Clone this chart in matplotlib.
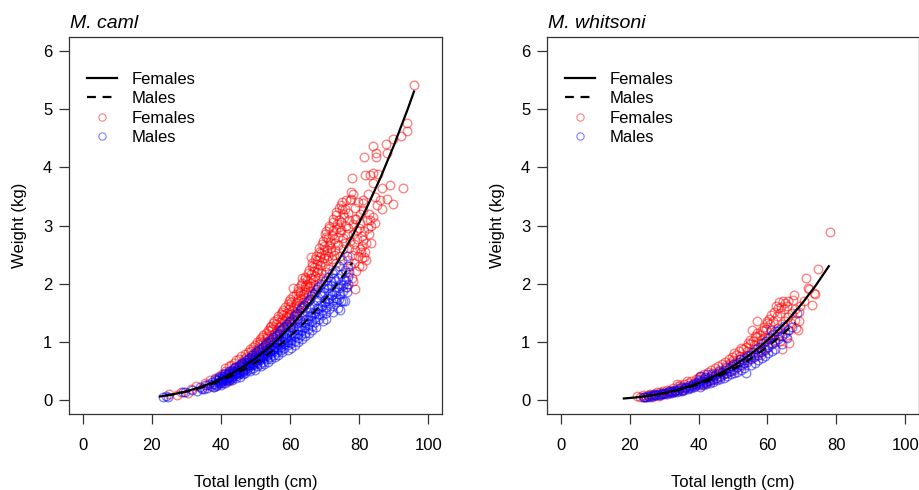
import matplotlib
matplotlib.use("Agg")
import matplotlib.pyplot as plt
from matplotlib.lines import Line2D

plt.rcParams['font.family'] = ['Liberation Sans', 'DejaVu Sans']

# ---------------- data ----------------
panel_titles = ["M. caml", "M. whitsoni"]
x_ticks = [0, 20, 40, 60, 80, 100]
y_ticks = [0, 1, 2, 3, 4, 5, 6]
x_label = "Total length (cm)"
y_label = "Weight (kg)"
legend_labels = ["Females", "Males", "Females", "Males"]

# M. caml females: (total length cm, weight kg)
caml_female = [
    (25.0, 0.10), (27.2, 0.08), (28.3, 0.14), (30.5, 0.12), (31.2, 0.19), (32.8, 0.24), (34.5, 0.20),
    (35.3, 0.30), (36.1, 0.25), (36.8, 0.34), (37.6, 0.22), (38.2, 0.38), (39.1, 0.29), (39.4, 0.42),
    (40.2, 0.33), (40.3, 0.45), (40.8, 0.38), (40.6, 0.30), (41.2, 0.50), (40.9, 0.41), (41.7, 0.35),
    (41.3, 0.55), (42.2, 0.46), (41.9, 0.40), (42.4, 0.58), (42.7, 0.50), (42.3, 0.33), (43.1, 0.44),
    (42.8, 0.60), (43.4, 0.52), (43.6, 0.48), (43.3, 0.38), (44.2, 0.56), (43.9, 0.63), (44.3, 0.45),
    (44.7, 0.52), (44.4, 0.68), (45.2, 0.58), (44.9, 0.47), (45.3, 0.70), (45.7, 0.62), (45.4, 0.53),
    (46.1, 0.66), (45.8, 0.75), (46.3, 0.50), (46.2, 0.58), (46.7, 0.71), (46.4, 0.60), (47.2, 0.64),
    (46.9, 0.79), (47.4, 0.55), (47.7, 0.68), (47.3, 0.74), (48.2, 0.72), (47.9, 0.83), (48.4, 0.60),
    (48.1, 0.66), (48.7, 0.78), (48.3, 0.88), (49.1, 0.70), (48.8, 0.84), (49.3, 0.62), (49.6, 0.80),
    (49.4, 0.92), (49.8, 0.74),
    (50.1, 0.78), (49.9, 0.95), (50.3, 0.68), (50.2, 0.86), (50.7, 0.90), (50.4, 1.00), (50.8, 0.74),
    (51.2, 0.82), (50.9, 0.96), (51.3, 1.05), (51.1, 0.72), (51.7, 0.88), (51.4, 1.02), (51.8, 0.78),
    (52.2, 0.92), (51.9, 1.08), (52.4, 0.80), (52.1, 0.99), (52.7, 0.86), (52.3, 1.12), (52.8, 0.95),
    (53.1, 1.00), (52.9, 1.15), (53.3, 0.88), (53.2, 1.06), (53.7, 0.94), (53.4, 1.10), (53.6, 1.20),
    (54.2, 1.04), (53.9, 1.18), (54.3, 0.92), (54.1, 1.25), (54.7, 1.12), (54.4, 1.00), (54.6, 1.28),
    (55.2, 1.08), (54.9, 1.22), (55.1, 1.32), (55.3, 0.98), (55.7, 1.16), (55.4, 1.36), (55.8, 1.05),
    (56.2, 1.20), (55.9, 1.30), (56.3, 1.10), (56.1, 1.40), (56.7, 1.25), (56.4, 1.45), (56.8, 1.14),
    (57.2, 1.34), (56.9, 1.18), (57.3, 1.48), (57.1, 1.28), (57.7, 1.40), (57.4, 1.22), (57.6, 1.52),
    (58.2, 1.36), (57.9, 1.55), (58.3, 1.25), (58.1, 1.46), (58.7, 1.42), (58.4, 1.60), (58.8, 1.30),
    (59.2, 1.50), (58.9, 1.38), (59.3, 1.65), (59.1, 1.28), (59.7, 1.56), (59.4, 1.44), (59.6, 1.70),
    (60.2, 1.48), (59.9, 1.62), (60.3, 1.36), (60.1, 1.74), (60.4, 1.30), (60.7, 1.55), (60.4, 1.68),
    (60.8, 1.42), (61.2, 1.60), (60.9, 1.78), (61.3, 1.46), (61.1, 1.38), (61.7, 1.66), (61.4, 1.52),
    (61.6, 1.82), (62.2, 1.70), (61.9, 1.58), (62.3, 1.88), (62.1, 1.45), (62.4, 1.76), (62.7, 1.64),
    (62.4, 1.92), (62.8, 1.80), (63.2, 1.74), (62.9, 1.86), (63.3, 1.98), (63.1, 1.60), (63.4, 1.52),
    (63.7, 1.82), (63.4, 2.02), (63.8, 1.68), (64.2, 1.90), (63.9, 1.76), (64.3, 2.08), (64.1, 1.64),
    (64.4, 1.96), (64.7, 1.86), (64.4, 2.12), (64.8, 2.00), (65.2, 1.94), (64.9, 2.06), (65.3, 2.18),
    (65.1, 1.80), (65.4, 1.72), (65.7, 2.02), (65.4, 2.24), (65.8, 1.88), (66.2, 2.10), (65.9, 1.96),
    (66.3, 2.30), (66.1, 2.16), (66.4, 1.84), (66.7, 2.06), (66.4, 2.36), (66.8, 2.22), (67.2, 2.14),
    (66.9, 2.28), (67.3, 2.42), (67.1, 1.98), (67.4, 1.90), (67.7, 2.20), (67.4, 2.48), (67.8, 2.34),
    (68.2, 2.26), (67.9, 2.40), (68.3, 2.55), (68.1, 2.10), (68.4, 2.02), (68.7, 2.32), (68.4, 2.62),
    (68.8, 2.46), (69.2, 2.38), (68.9, 2.52), (69.3, 2.68), (69.1, 2.18), (69.4, 2.10), (69.7, 2.44),
    (69.4, 2.74), (69.8, 2.58), (63.5, 2.10), (66.0, 2.45), (61.0, 1.92),
    (70.2, 2.50), (69.9, 2.64), (70.3, 2.80), (70.1, 2.30), (70.4, 2.20), (70.0, 2.86), (70.7, 2.58),
    (70.4, 2.90), (70.8, 2.40), (71.2, 2.66), (70.9, 2.48), (71.3, 2.96), (71.1, 2.78), (71.4, 2.26),
    (71.7, 2.72), (71.4, 3.00), (71.8, 2.55), (72.2, 2.84), (71.9, 2.62), (72.3, 3.06), (72.1, 2.42),
    (72.4, 2.92), (72.7, 2.76), (72.4, 3.12), (72.8, 2.50), (73.2, 2.94), (72.9, 2.70), (73.3, 3.18),
    (73.1, 2.58), (73.4, 2.36), (73.7, 3.02), (73.4, 3.24), (73.8, 2.80), (74.2, 2.98), (73.9, 2.66),
    (74.3, 3.30), (74.1, 3.10), (74.4, 2.48), (74.7, 3.06), (74.4, 2.88), (74.8, 3.36), (75.2, 3.20),
    (74.9, 2.92), (75.3, 2.60), (75.1, 3.40), (75.0, 3.29), (75.7, 3.14), (75.4, 2.78), (75.8, 3.28),
    (76.2, 3.00), (75.9, 2.70), (76.3, 3.44), (76.1, 2.20), (76.4, 1.95), (76.7, 3.22), (76.4, 2.86),
    (76.8, 2.40), (77.2, 3.10), (76.9, 2.96), (77.3, 2.30), (77.1, 2.62), (77.7, 3.45), (77.4, 2.74),
    (77.8, 2.10), (77.6, 3.58), (78.2, 3.02), (77.9, 2.50), (78.3, 2.04), (78.1, 2.85), (78.7, 3.30),
    (78.4, 2.68), (78.8, 1.90), (78.6, 2.36), (79.2, 3.12), (78.9, 2.58), (79.3, 2.92), (79.1, 2.22),
    (79.7, 3.40), (79.4, 2.76), (79.8, 2.48), (80.2, 3.20), (79.9, 2.96), (80.3, 2.60), (80.1, 2.30),
    (80.7, 2.44), (80.4, 3.05), (80.8, 2.82), (81.2, 3.38), (80.9, 2.64), (81.3, 2.45),
    (82.0, 2.70), (82.5, 2.95), (83.0, 2.85), (81.8, 2.55), (83.5, 3.00), (82.2, 3.10), (81.5, 2.90),
    (84.0, 3.15), (80.5, 2.55), (81.9, 2.40), (82.8, 3.20), (81.2, 2.75), (83.3, 2.70), (80.8, 2.30),
    (77.9, 3.81), (78.3, 3.55), (77.4, 3.44), (78.8, 3.12), (81.0, 3.43), (81.0, 3.26), (81.4, 4.18),
    (81.7, 3.86), (82.7, 3.54), (83.2, 3.87), (83.2, 3.09), (84.0, 3.73), (84.0, 3.90), (84.1, 4.36),
    (84.6, 3.49), (84.6, 3.04), (84.8, 4.25), (84.8, 4.18), (85.1, 3.35), (85.4, 3.88), (86.1, 3.44),
    (86.6, 3.65), (86.6, 3.28), (87.7, 4.40), (88.0, 3.46), (88.0, 4.24), (89.0, 3.69), (89.9, 3.37),
    (89.9, 4.49), (92.0, 4.53), (92.8, 3.64), (93.8, 4.63), (94.0, 4.76), (96.0, 5.42),
]

# M. caml males
caml_male = [
    (23.3, 0.05), (24.1, 0.07), (24.6, 0.06), (29.1, 0.14), (29.5, 0.13), (31.5, 0.17), (33.0, 0.16),
    (34.0, 0.22), (34.4, 0.19), (35.0, 0.19), (35.5, 0.26), (36.0, 0.21), (36.5, 0.28), (37.0, 0.24),
    (37.5, 0.31), (38.0, 0.22), (37.8, 0.27),
    (38.7, 0.34), (38.4, 0.28), (38.2, 0.36), (38.6, 0.24), (39.2, 0.31), (38.9, 0.26), (39.3, 0.38),
    (39.1, 0.34), (39.7, 0.29), (39.4, 0.40), (39.6, 0.33), (40.2, 0.36), (39.9, 0.30), (40.3, 0.42),
    (40.1, 0.26), (40.4, 0.34), (40.7, 0.38), (40.4, 0.32), (40.8, 0.44), (41.2, 0.35), (40.9, 0.41),
    (41.3, 0.29), (41.1, 0.46), (41.4, 0.38), (41.7, 0.43), (41.4, 0.36), (41.8, 0.32), (42.2, 0.40),
    (41.9, 0.47), (42.3, 0.34), (42.1, 0.44), (42.4, 0.38), (42.7, 0.42), (42.4, 0.50), (42.8, 0.36),
    (43.2, 0.45), (42.9, 0.39), (43.3, 0.52), (43.1, 0.34), (43.4, 0.48), (43.7, 0.47), (43.4, 0.41),
    (43.8, 0.55), (44.2, 0.44), (43.9, 0.50), (44.3, 0.38), (44.1, 0.57), (44.4, 0.46), (44.7, 0.52),
    (44.4, 0.42), (44.8, 0.48), (45.2, 0.49), (44.9, 0.56), (45.3, 0.44), (45.1, 0.60), (45.4, 0.40),
    (45.7, 0.54), (45.4, 0.47), (45.8, 0.62), (46.2, 0.52), (45.9, 0.58), (46.3, 0.45), (46.1, 0.64),
    (46.4, 0.50), (46.7, 0.56), (46.4, 0.48), (46.8, 0.66), (47.2, 0.60), (46.9, 0.54), (47.3, 0.68),
    (47.1, 0.47), (47.4, 0.58), (47.7, 0.62), (47.4, 0.52), (47.8, 0.70),
    (48.2, 0.60), (47.9, 0.66), (48.3, 0.54), (48.1, 0.72), (48.4, 0.50), (48.7, 0.64), (48.4, 0.58),
    (48.8, 0.74), (49.2, 0.62), (48.9, 0.70), (49.3, 0.55), (49.1, 0.77), (49.4, 0.66), (49.7, 0.68),
    (49.4, 0.60), (49.8, 0.79), (50.2, 0.66), (49.9, 0.74), (50.3, 0.58), (50.1, 0.82), (50.4, 0.70),
    (50.0, 0.52), (50.7, 0.72), (50.4, 0.64), (50.8, 0.84), (51.2, 0.70), (50.9, 0.78), (51.3, 0.62),
    (51.1, 0.87), (51.4, 0.74), (51.7, 0.76), (51.4, 0.68), (51.8, 0.90), (51.6, 0.58), (52.2, 0.74),
    (51.9, 0.82), (52.3, 0.66), (52.1, 0.92), (52.4, 0.78), (52.7, 0.80), (52.4, 0.72), (52.8, 0.95),
    (52.6, 0.62), (53.2, 0.78), (52.9, 0.86), (53.3, 0.70), (53.1, 0.98), (53.4, 0.82), (53.7, 0.84),
    (53.4, 0.76), (53.8, 1.00), (53.6, 0.66), (54.2, 0.82), (53.9, 0.90), (54.3, 0.74), (54.1, 1.02),
    (54.4, 0.86), (54.7, 0.88), (54.4, 0.80), (54.8, 1.05), (54.6, 0.70), (55.2, 0.86), (54.9, 0.95),
    (55.3, 0.78), (55.1, 1.08), (55.4, 0.90), (55.7, 0.92), (55.4, 0.84), (55.8, 1.10), (55.6, 0.74),
    (56.2, 0.90), (55.9, 1.00), (56.3, 0.82), (56.1, 1.14), (56.4, 0.96), (56.7, 0.98), (56.4, 0.88),
    (56.8, 1.16), (56.6, 0.78), (57.2, 0.95), (56.9, 1.05), (57.3, 0.86), (57.1, 1.20), (57.4, 1.00),
    (57.7, 1.02), (57.4, 0.92), (57.8, 1.22), (57.6, 0.82),
    (58.2, 1.00), (57.9, 1.10), (58.3, 0.90), (58.1, 1.25), (58.4, 1.05), (58.7, 1.06), (58.4, 0.96),
    (58.8, 1.28), (59.2, 1.04), (58.9, 1.15), (59.3, 0.94), (59.1, 1.30), (59.4, 0.86), (59.7, 1.12),
    (59.4, 1.00), (59.8, 1.34), (60.2, 1.10), (59.9, 1.20), (60.3, 0.98), (60.1, 1.36), (60.4, 0.90),
    (60.0, 1.26), (60.7, 1.16), (60.4, 1.04), (60.8, 1.40), (61.2, 1.14), (60.9, 1.26), (61.3, 1.02),
    (61.1, 1.44), (61.4, 0.95), (61.7, 1.22), (61.4, 1.10), (61.8, 1.48), (62.2, 1.20), (61.9, 1.32),
    (62.3, 1.06), (62.1, 1.50), (62.4, 1.00), (62.0, 1.40), (62.7, 1.28), (62.4, 1.14), (62.8, 1.54),
    (63.2, 1.26), (62.9, 1.38), (63.3, 1.12), (63.1, 1.58), (63.4, 1.05), (63.7, 1.34), (63.4, 1.20),
    (63.8, 1.60), (64.2, 1.32), (63.9, 1.45), (64.3, 1.16), (64.1, 1.64), (64.4, 1.10), (64.7, 1.40),
    (64.4, 1.26), (64.8, 1.68), (65.2, 1.38), (64.9, 1.52), (65.3, 1.22), (65.1, 1.70), (65.4, 1.15),
    (65.7, 1.46), (65.4, 1.30), (65.8, 1.74), (66.2, 1.44), (65.9, 1.58), (66.3, 1.28), (66.1, 1.78),
    (66.4, 1.20), (66.7, 1.52), (66.4, 1.36), (66.8, 1.82), (67.2, 1.50), (66.9, 1.64), (67.3, 1.34),
    (67.1, 1.86), (67.4, 1.26), (67.7, 1.58), (67.4, 1.42), (67.8, 1.90),
    (68.2, 1.56), (67.9, 1.72), (68.3, 1.40), (68.1, 1.95), (68.7, 1.64), (68.4, 1.48), (68.8, 1.84),
    (69.2, 1.62), (68.9, 1.80), (69.3, 1.46), (69.1, 2.00), (69.4, 1.36), (69.7, 1.70), (69.4, 1.54),
    (69.8, 1.92), (70.2, 1.68), (69.9, 1.86), (70.3, 1.50), (70.1, 2.05), (70.4, 1.40), (70.7, 1.76),
    (70.4, 1.60), (70.8, 1.98), (71.2, 1.74), (70.9, 1.92), (71.3, 1.56), (71.1, 2.12), (71.7, 1.82),
    (71.4, 1.66), (71.8, 2.04), (72.2, 1.80), (71.9, 1.98), (72.3, 1.62), (72.1, 2.18), (72.4, 1.52),
    (72.7, 1.88), (72.4, 1.72), (72.8, 2.10), (73.2, 1.86), (72.9, 2.04), (73.3, 1.68), (73.1, 2.24),
    (73.7, 1.94), (73.4, 1.76), (73.8, 1.58), (74.2, 1.92), (73.9, 2.10), (74.3, 1.74), (74.1, 2.30),
    (74.4, 1.55), (74.7, 2.00), (74.4, 1.82), (74.8, 1.70), (75.2, 1.98), (74.9, 2.16), (75.3, 1.70),
    (75.1, 2.40), (75.7, 2.06), (75.4, 1.88), (75.8, 1.70), (76.2, 2.04), (75.9, 2.24), (76.4, 2.47),
    (76.1, 1.95), (76.7, 2.12), (76.4, 1.85), (76.8, 2.30), (77.2, 2.20), (76.9, 2.00),
]

# M. whitsoni females
whit_female = [
    (22.2, 0.07), (23.1, 0.05), (23.8, 0.08), (24.3, 0.06), (24.8, 0.05), (25.3, 0.09), (26.2, 0.07),
    (25.8, 0.10), (26.4, 0.06), (27.1, 0.08), (26.7, 0.11), (28.2, 0.09), (27.8, 0.13), (28.4, 0.07),
    (29.1, 0.11), (28.7, 0.14), (30.2, 0.10), (29.8, 0.15), (30.4, 0.12), (31.1, 0.13), (30.7, 0.17),
    (32.2, 0.12), (31.8, 0.18), (32.4, 0.15), (33.1, 0.16), (32.7, 0.21), (33.8, 0.27), (34.2, 0.15),
    (33.9, 0.24), (34.4, 0.19), (35.1, 0.20), (34.7, 0.26), (35.3, 0.17), (36.2, 0.22), (35.8, 0.28),
    (36.6, 0.33), (37.1, 0.20), (36.8, 0.30), (37.4, 0.24), (38.2, 0.26), (37.8, 0.33), (39.1, 0.24),
    (38.7, 0.30), (39.3, 0.36),
    (40.1, 0.30), (39.8, 0.36), (40.3, 0.25), (40.0, 0.40), (41.2, 0.33), (40.8, 0.42), (41.3, 0.28),
    (42.1, 0.36), (41.7, 0.45), (42.3, 0.30), (42.0, 0.40), (43.2, 0.38), (42.8, 0.48), (43.4, 0.32),
    (44.1, 0.42), (43.7, 0.52), (44.3, 0.35), (44.0, 0.46), (45.2, 0.44), (44.8, 0.55), (45.3, 0.38),
    (46.1, 0.48), (45.7, 0.58), (46.3, 0.40), (46.0, 0.52), (47.2, 0.50), (46.8, 0.62), (47.3, 0.44),
    (48.1, 0.55), (47.7, 0.66), (48.3, 0.46), (48.0, 0.60), (49.2, 0.58), (48.8, 0.70), (49.3, 0.50),
    (49.0, 0.64),
    (50.1, 0.62), (49.7, 0.74), (50.3, 0.52), (50.0, 0.68), (50.4, 0.80), (51.2, 0.66), (50.8, 0.78),
    (51.3, 0.56), (52.1, 0.70), (51.7, 0.84), (52.3, 0.60), (52.0, 0.76), (52.4, 0.90), (53.2, 0.74),
    (52.8, 0.88), (53.3, 0.64), (54.1, 0.78), (53.7, 0.92), (54.3, 0.68), (54.0, 0.84), (54.4, 0.98),
    (55.2, 0.82), (54.8, 0.96), (55.3, 0.72), (55.0, 1.04), (55.5, 1.20), (56.1, 0.88), (55.7, 1.02),
    (56.3, 0.76), (56.0, 0.94), (56.4, 1.10), (57.2, 0.92), (56.8, 1.08), (57.3, 0.80), (57.0, 1.16),
    (57.1, 1.35), (58.1, 0.98), (57.7, 1.12), (58.3, 0.84), (58.0, 1.04), (58.4, 1.20), (58.2, 0.78),
    (59.2, 1.02), (58.8, 1.18), (59.3, 0.88), (59.0, 1.26), (59.4, 1.08), (59.8, 1.36),
    (60.1, 1.06), (59.7, 1.22), (60.3, 0.92), (60.0, 1.32), (60.4, 1.40), (61.2, 1.12), (60.8, 1.30),
    (61.3, 0.98), (61.0, 1.46), (62.1, 1.18), (61.7, 1.36), (62.3, 1.04), (62.0, 1.52), (62.4, 1.62),
    (63.2, 1.24), (62.8, 1.44), (63.3, 1.10), (63.0, 1.58), (63.4, 1.68), (64.1, 1.30), (63.7, 1.50),
    (64.3, 1.12), (64.0, 1.60), (64.4, 1.70), (65.2, 1.36), (64.8, 1.56), (65.3, 1.08), (65.0, 1.66),
    (66.1, 1.42), (65.7, 1.62), (66.3, 0.98), (66.0, 1.70), (66.4, 1.20), (67.2, 1.50), (66.8, 1.32),
    (67.3, 1.72), (68.1, 1.56), (67.7, 1.81), (68.3, 1.23), (68.0, 1.38), (69.2, 1.52), (68.8, 1.20),
    (69.3, 1.35), (64.1, 0.87), (63.6, 1.02),
    (69.5, 1.62), (70.5, 1.70), (71.2, 2.10), (71.8, 1.93), (72.1, 1.91), (72.9, 1.64), (73.4, 1.84),
    (73.8, 1.83), (74.7, 2.25), (78.1, 2.89),
]

# M. whitsoni males
whit_male = [
    (24.0, 0.06), (24.3, 0.05), (25.2, 0.07), (24.8, 0.05), (26.1, 0.08), (25.7, 0.06), (27.2, 0.09),
    (26.8, 0.07), (27.3, 0.10), (28.1, 0.10), (27.7, 0.08), (29.2, 0.11), (28.8, 0.09), (29.3, 0.12),
    (30.1, 0.12), (29.7, 0.10), (31.2, 0.13), (30.8, 0.11), (31.3, 0.15), (32.1, 0.14), (31.7, 0.12),
    (32.3, 0.16), (33.2, 0.16), (32.8, 0.13), (33.3, 0.18), (34.1, 0.17), (33.7, 0.14), (34.3, 0.20),
    (35.2, 0.18), (34.8, 0.22), (35.3, 0.16), (36.1, 0.20), (35.7, 0.17), (36.3, 0.23), (37.2, 0.22),
    (36.8, 0.19), (37.3, 0.25), (38.1, 0.24), (37.7, 0.20), (38.3, 0.27), (39.2, 0.25), (38.8, 0.22),
    (39.3, 0.29),
    (40.1, 0.27), (39.7, 0.31), (40.3, 0.23), (40.0, 0.34), (40.5, 0.42), (41.2, 0.29), (40.8, 0.33),
    (41.3, 0.25), (42.1, 0.31), (41.7, 0.36), (42.3, 0.27), (42.0, 0.40), (42.5, 0.44), (42.6, 0.33),
    (43.2, 0.34), (42.8, 0.38), (43.3, 0.29), (44.1, 0.36), (43.7, 0.41), (44.3, 0.31), (44.0, 0.45),
    (45.2, 0.38), (44.8, 0.43), (45.3, 0.34), (46.1, 0.41), (45.7, 0.46), (46.3, 0.36), (46.0, 0.50),
    (47.2, 0.44), (46.8, 0.49), (47.3, 0.38), (48.1, 0.47), (47.7, 0.52), (48.3, 0.41), (48.0, 0.56),
    (49.2, 0.50), (48.8, 0.55), (49.3, 0.44), (50.1, 0.53), (49.7, 0.58), (50.3, 0.46), (50.0, 0.62),
    (51.2, 0.56), (50.8, 0.62), (51.3, 0.49), (52.1, 0.60), (51.7, 0.66), (52.3, 0.52), (52.0, 0.70),
    (53.2, 0.63), (52.8, 0.68), (53.3, 0.55), (54.1, 0.66), (53.7, 0.72), (53.8, 0.47), (54.0, 0.76),
    (55.2, 0.70), (54.8, 0.78), (55.3, 0.60), (56.1, 0.74), (55.7, 0.82), (56.3, 0.64), (57.2, 0.78),
    (56.8, 0.88), (57.3, 0.68), (58.1, 0.82), (57.7, 0.92), (58.3, 0.72), (59.2, 0.86), (58.8, 0.98),
    (59.3, 0.75), (60.1, 0.92), (59.7, 1.02), (60.3, 0.80), (61.2, 0.96), (60.8, 1.08), (61.3, 0.85),
    (61.0, 1.20), (62.1, 1.00), (61.7, 1.14), (62.3, 0.88), (63.2, 1.05), (62.8, 1.18), (64.1, 1.10),
    (63.7, 1.22), (64.3, 0.96), (65.2, 1.16), (64.8, 1.28), (66.1, 1.20), (65.7, 1.06), (67.0, 1.25),
    (68.5, 1.50),
]

# fitted length-weight curves
caml_f_curve_len = [22, 26, 30, 34, 38, 42, 46, 50, 54, 58, 62, 66, 70, 74, 78, 82, 86, 90, 94, 96]
caml_f_curve_wt = [0.058, 0.097, 0.150, 0.220, 0.309, 0.421, 0.556, 0.718, 0.910, 1.133, 1.390,
                   1.685, 2.018, 2.394, 2.813, 3.280, 3.796, 4.366, 4.989, 5.321]
caml_m_curve_len = [24, 28, 32, 36, 40, 44, 48, 52, 56, 60, 64, 68, 72, 76, 78]
caml_m_curve_wt = [0.075, 0.117, 0.173, 0.245, 0.333, 0.441, 0.569, 0.719, 0.894, 1.094, 1.321,
                   1.578, 1.866, 2.186, 2.359]
whit_f_curve_len = [18, 22, 26, 30, 34, 38, 42, 46, 50, 54, 58, 62, 66, 70, 74, 78]
whit_f_curve_wt = [0.025, 0.046, 0.077, 0.120, 0.177, 0.249, 0.340, 0.451, 0.583, 0.741, 0.924,
                   1.136, 1.380, 1.656, 1.967, 2.316]
whit_m_curve_len = [24, 28, 32, 36, 40, 44, 48, 52, 56, 60, 64, 68]
whit_m_curve_wt = [0.059, 0.093, 0.139, 0.197, 0.271, 0.360, 0.468, 0.595, 0.743, 0.914, 1.109, 1.330]

# ---------------- drawing ----------------
RED = (1.0, 0.0, 0.0, 0.5)
BLUE = (0.0, 0.0, 1.0, 0.5)
AX_COL = "#333333"
MS = 6.2
MEW = 0.95
FS = 12

fig = plt.figure(figsize=(9.2, 4.9), dpi=100)
W, H = 920, 490
panels = [
    (69, 442, caml_female, caml_male, caml_f_curve_len, caml_f_curve_wt, caml_m_curve_len, caml_m_curve_wt),
    (547, 919, whit_female, whit_male, whit_f_curve_len, whit_f_curve_wt, whit_m_curve_len, whit_m_curve_wt),
]
top_px, bot_px = 37, 414

for i, (x0, x1, fem, mal, fl, fw, ml, mw) in enumerate(panels):
    ax = fig.add_axes([x0 / W, 1 - bot_px / H, (x1 - x0) / W, (bot_px - top_px) / H])
    ax.plot([p[0] for p in fem], [p[1] for p in fem], linestyle='none', marker='o', markersize=MS,
            markerfacecolor='none', markeredgecolor=RED, markeredgewidth=MEW, zorder=2)
    ax.plot([p[0] for p in mal], [p[1] for p in mal], linestyle='none', marker='o', markersize=MS,
            markerfacecolor='none', markeredgecolor=BLUE, markeredgewidth=MEW, zorder=3)
    ax.plot(fl, fw, color='black', lw=1.6, solid_capstyle='butt', zorder=4)
    ax.plot(ml, mw, color='black', lw=1.6, dashes=(4, 3), zorder=4)

    ax.set_xlim(-4, 104)
    ax.set_ylim(-0.24, 6.24)
    ax.set_xticks(x_ticks)
    ax.set_yticks(y_ticks)
    ax.set_xticklabels([str(t) for t in x_ticks])
    ax.set_yticklabels([str(t) for t in y_ticks])
    for s in ax.spines.values():
        s.set_color(AX_COL)
        s.set_linewidth(0.9)
    ax.tick_params(axis='both', direction='out', length=7, width=0.9, color=AX_COL,
                   labelsize=FS, labelcolor='black')
    ax.tick_params(axis='x', pad=10)
    ax.tick_params(axis='y', pad=5)

    handles = [
        Line2D([], [], color='black', lw=1.6),
        Line2D([], [], color='black', lw=1.6, dashes=(4, 3)),
        Line2D([], [], linestyle='none', marker='o', markersize=MS * 0.85, markerfacecolor='none',
               markeredgecolor=RED, markeredgewidth=0.8),
        Line2D([], [], linestyle='none', marker='o', markersize=MS * 0.85, markerfacecolor='none',
               markeredgecolor=BLUE, markeredgewidth=0.8),
    ]
    ax.legend(handles, legend_labels, loc='upper left',
              bbox_to_anchor=(18 / (x1 - x0), 1 - 35 / (bot_px - top_px)),
              frameon=False, fontsize=FS, handlelength=1.8, handletextpad=0.85,
              labelspacing=0.26, borderpad=0, borderaxespad=0)

    cx = (x0 + x1) / 2
    fig.text(cx / W, 1 - 487 / H, x_label, ha='center', va='baseline', fontsize=FS)
    fig.text((x0 - 49) / W, 1 - 225.5 / H, y_label, ha='center', va='center', rotation=90, fontsize=FS)
    fig.text((x0 + 1) / W, 1 - 27.5 / H, panel_titles[i], ha='left', va='baseline',
             fontsize=14, style='italic')

fig.savefig("out.png", dpi=100)
